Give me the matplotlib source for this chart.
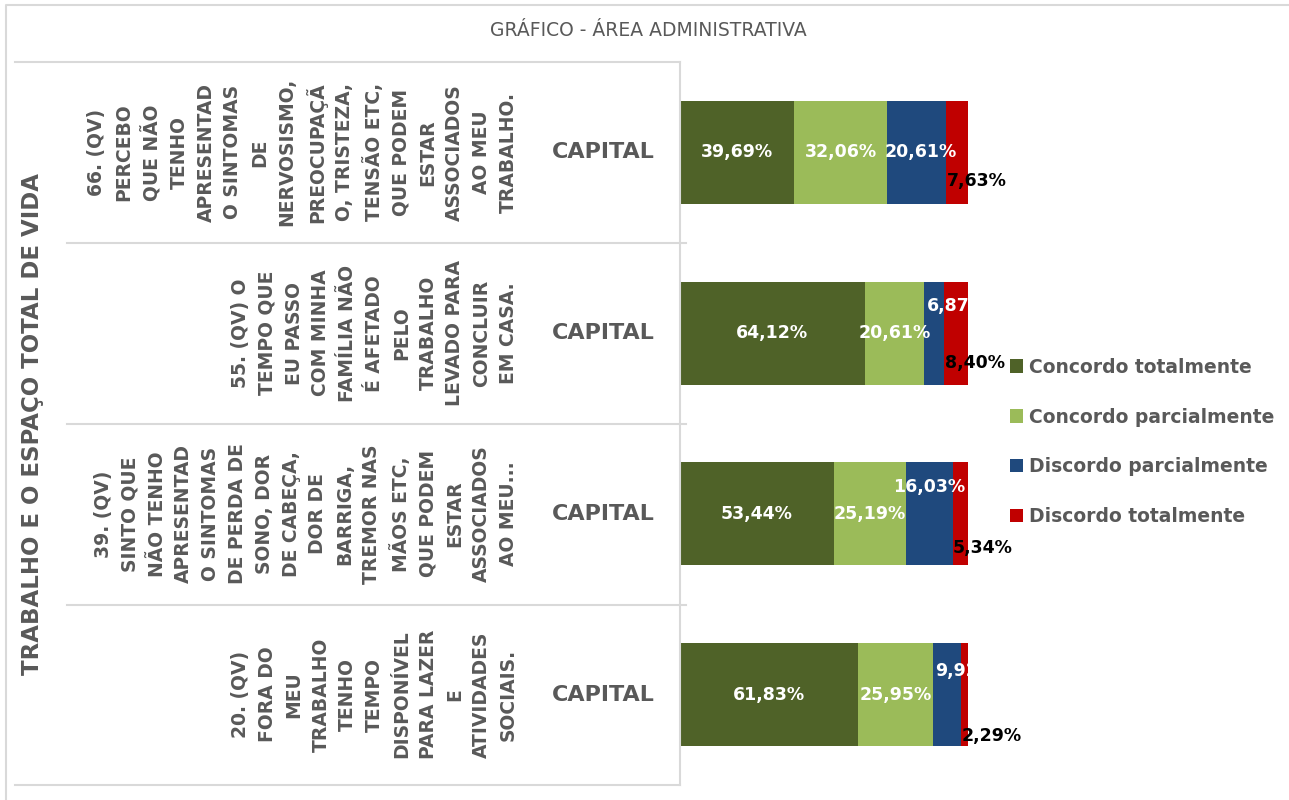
import numpy as np
import matplotlib
matplotlib.use("Agg")
from matplotlib import pyplot as plt
from matplotlib import transforms
from matplotlib.lines import Line2D
from matplotlib.patches import Patch

# Data, top row first
questions = [
    "66. (QV)\nPERCEBO\nQUE NÃO\nTENHO\nAPRESENTAD\nO SINTOMAS\nDE\nNERVOSISMO,\nPREOCUPAÇÃ\nO, TRISTEZA,\nTENSÃO ETC,\nQUE PODEM\nESTAR\nASSOCIADOS\nAO MEU\nTRABALHO.",
    "55. (QV) O\nTEMPO QUE\nEU PASSO\nCOM MINHA\nFAMÍLIA NÃO\nÉ AFETADO\nPELO\nTRABALHO\nLEVADO PARA\nCONCLUIR\nEM CASA.",
    "39. (QV)\nSINTO QUE\nNÃO TENHO\nAPRESENTAD\nO SINTOMAS\nDE PERDA DE\nSONO, DOR\nDE CABEÇA,\nDOR DE\nBARRIGA,\nTREMOR NAS\nMÃOS ETC,\nQUE PODEM\nESTAR\nASSOCIADOS\nAO MEU...",
    "20. (QV)\nFORA DO\nMEU\nTRABALHO\nTENHO\nTEMPO\nDISPONÍVEL\nPARA LAZER\nE\nATIVIDADES\nSOCIAIS.",
]
region = ["CAPITAL", "CAPITAL", "CAPITAL", "CAPITAL"]
group_label = "TRABALHO E O ESPAÇO TOTAL DE VIDA"

series_names = ["Concordo totalmente", "Concordo parcialmente",
                "Discordo parcialmente", "Discordo totalmente"]
concordo_tot = [39.69, 64.12, 53.44, 61.83]
concordo_parc = [32.06, 20.61, 25.19, 25.95]
discordo_parc = [20.61, 6.87, 16.03, 9.92]
discordo_tot = [7.63, 8.40, 5.34, 2.29]

colors = ["#4F6228", "#9BBB59", "#1F497D", "#C00000"]
label_colors = ["white", "white", "white", "black"]
# manual label nudges (pixels) for the narrow segments, like the dragged labels in the original
blue_offsets = [(4, 0), (23, 27), (0, 27), (18, 24)]
red_offsets = [(20, -29), (19, -30), (22, -34), (27, -41)]

W, H = 1289, 800
fig = plt.figure(figsize=(W / 100, H / 100), dpi=100)
grey = "#595959"
line_c = "#D9D9D9"

def fx(px):
    return px / W

def fy(py):
    return 1 - py / H

# bar area
ax = fig.add_axes([fx(680), fy(785), fx(968) - fx(680), fy(62) - fy(785)])
ypos = np.arange(len(questions))
values = [concordo_tot, concordo_parc, discordo_parc, discordo_tot]
left = np.zeros(len(questions))
for i, vals in enumerate(values):
    vals = np.array(vals)
    bars = ax.barh(ypos, vals, left=left, height=0.57, color=colors[i],
                   label=series_names[i], edgecolor="none")
    for j, b in enumerate(bars):
        cx = left[j] + vals[j] / 2
        txt = "{:.2f}%".format(vals[j]).replace(".", ",")
        off = (0, 0)
        if i == 2:
            off = blue_offsets[j]
        elif i == 3:
            off = red_offsets[j]
        ax.annotate(txt, (cx, ypos[j]), xytext=off, textcoords="offset pixels",
                    ha="center", va="center", color=label_colors[i],
                    fontsize=12.5, fontweight="bold", family="DejaVu Sans",
                    annotation_clip=False, zorder=5)
    left += vals

ax.set_xlim(0, 100)
ax.set_ylim(len(questions) - 0.5, -0.5)
ax.axis("off")

# category labels
tr = transforms.blended_transform_factory(fig.transFigure, ax.transData)
for j in range(len(questions)):
    ax.text(fx(518), ypos[j], questions[j], transform=tr, rotation=90,
            ha="right", va="center", multialignment="center",
            color=grey, fontsize=13.5, fontweight="bold",
            family="DejaVu Sans", linespacing=1.52)
    ax.text(fx(603), ypos[j], region[j], transform=tr, ha="center",
            va="center", color=grey, fontsize=16, fontweight="bold",
            family="DejaVu Sans")
fig.text(fx(33), fy(424), group_label, rotation=90, ha="center", va="center",
         color=grey, fontsize=16.5, fontweight="bold", family="DejaVu Sans")

# grid lines of the category table
for yy in [62, 785]:
    fig.add_artist(Line2D([fx(15), fx(680)], [fy(yy), fy(yy)], color=line_c, lw=1.5))
for yy in [243, 424, 605]:
    fig.add_artist(Line2D([fx(67), fx(686)], [fy(yy), fy(yy)], color=line_c, lw=1.5))
fig.add_artist(Line2D([fx(680), fx(680)], [fy(62), fy(785)], color=line_c, lw=1.5))
# outer chart border
fig.add_artist(Line2D([fx(6), fx(6), fx(1289)], [fy(800), fy(5), fy(5)], color=line_c, lw=1.5))

fig.text(fx(648), fy(30), "GRÁFICO - ÁREA ADMINISTRATIVA", ha="center", va="center",
         color=grey, fontsize=13.5, family="DejaVu Sans")

handles = [Patch(facecolor=c, edgecolor="none") for c in colors]
leg = fig.legend(handles, series_names, loc="center left",
                 bbox_to_anchor=(fx(993), fy(442)), frameon=False,
                 prop={"family": "DejaVu Sans", "weight": "bold", "size": 13.5},
                 handlelength=0.7, handleheight=0.7, handletextpad=0.3,
                 labelspacing=1.65)
for t in leg.get_texts():
    t.set_color(grey)

plt.savefig("out.png", dpi=100)
